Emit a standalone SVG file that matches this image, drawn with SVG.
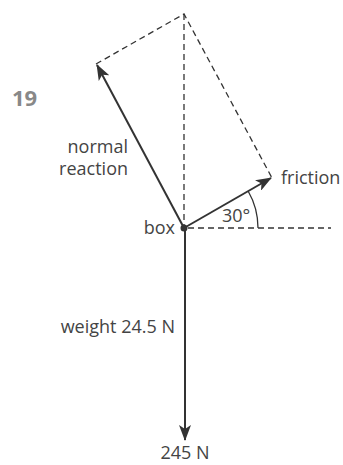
<svg xmlns="http://www.w3.org/2000/svg" width="343" height="465" viewBox="0 0 343 465">
<style>
.t{font-family:"Open Sans","Noto Sans",sans-serif;font-size:18px;fill:#444}
.v{stroke:#333;stroke-width:2;fill:none}
.d{stroke:#333;stroke-width:1.3;stroke-dasharray:6,4;fill:none}
</style>
<defs>
<marker id="ah" viewBox="0 0 16 12" markerWidth="16" markerHeight="12" refX="15" refY="6" orient="auto" markerUnits="userSpaceOnUse">
<path d="M0,0 L16,6 L0,12 L4,6 Z" fill="#333"/>
</marker>
</defs>
<rect width="343" height="465" fill="#fff"/>
<g id="construction">
<path class="d" d="M96,64 L184,14 L272,178"/>
<path class="d" d="M184,14 L184,228"/>
<path class="d" d="M188,228 L331,228"/>
<path d="M258,228 A74,74 0 0 0 248.1,191" stroke="#333" stroke-width="1.3" fill="none"/>
</g>
<g id="connectors">
<line class="v" x1="184" y1="228" x2="97" y2="65" marker-end="url(#ah)"/>
<line class="v" x1="184" y1="228" x2="271" y2="178" marker-end="url(#ah)"/>
<line class="v" x1="185" y1="228" x2="185" y2="440" marker-end="url(#ah)"/>
</g>
<g id="box">
<circle cx="184" cy="228" r="3.5" fill="#333"/>
<text class="t" x="175" y="234" text-anchor="end">box</text>
</g>
<g id="labels">
<text x="12" y="106" font-family="'Open Sans','Noto Sans',sans-serif" font-size="22" font-weight="bold" fill="#888">19</text>
<text class="t" x="128" y="153" text-anchor="end">normal</text>
<text class="t" x="128" y="175" text-anchor="end">reaction</text>
<text class="t" x="281" y="184">friction</text>
<text class="t" x="222" y="222">30°</text>
<text class="t" x="175" y="333" text-anchor="end">weight 24.5 N</text>
<text class="t" x="185" y="459" text-anchor="middle">245 N</text>
</g>
</svg>
